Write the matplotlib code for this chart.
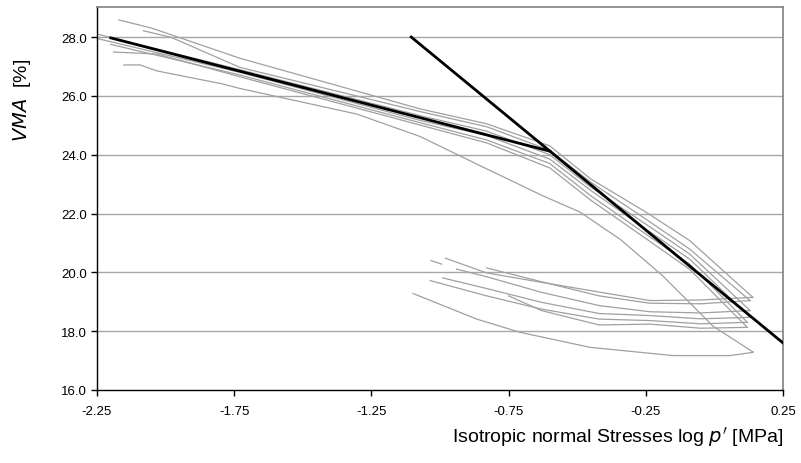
import numpy as np
import matplotlib
matplotlib.use('Agg')
import matplotlib.pyplot as plt

plt.rcParams['font.family'] = ['Liberation Sans', 'DejaVu Sans']
plt.rcParams['axes.unicode_minus'] = False

# measured loops: loading branches (upper) and unloading branches (lower)
up0_x = [-2.152, -2.093, -2.033, -1.79, -1.729, -1.303, -1.182, -1.073, -0.866, -0.625, -0.49, -0.34, -0.187, -0.005, 0.141]
up0_y = [27.05, 27.05, 26.85, 26.4, 26.25, 25.38, 24.98, 24.62, 23.68, 22.6, 22.05, 21.1, 19.87, 18.17, 17.29]
up1_x = [-2.17, -2.05, -1.73, -1.07, -0.83, -0.6, -0.45, -0.25, -0.09, 0.14]
up1_y = [28.58, 28.3, 27.28, 25.55, 25.05, 24.3, 23.17, 22.05, 21.08, 19.15]
up2_x = [-2.08, -1.98, -1.73, -1.07, -0.83, -0.6, -0.45, -0.25, -0.09, 0.13]
up2_y = [28.21, 27.99, 26.97, 25.46, 24.95, 24.15, 23.06, 21.81, 20.79, 19.04]
up3_x = [-2.25, -1.73, -1.07, -0.83, -0.6, -0.45, -0.25, -0.09, 0.13]
up3_y = [28.1, 26.89, 25.32, 24.8, 24.0, 22.89, 21.64, 20.62, 18.7]
up4_x = [-2.25, -1.73, -1.07, -0.83, -0.6, -0.45, -0.25, -0.09, 0.13]
up4_y = [27.95, 26.8, 25.16, 24.65, 23.85, 22.78, 21.47, 20.45, 18.47]
up5_x = [-2.2, -1.73, -1.07, -0.83, -0.6, -0.45, -0.25, -0.09, 0.12]
up5_y = [27.75, 26.71, 25.08, 24.5, 23.7, 22.6, 21.3, 20.28, 18.3]
up6_x = [-2.19, -2.03, -1.73, -1.07, -0.83, -0.6, -0.45, -0.25, -0.09, 0.12]
up6_y = [27.49, 27.42, 26.65, 25.0, 24.4, 23.55, 22.45, 21.15, 20.1, 18.13]

lo0_x = [-1.098, -0.97, -0.866, -0.708, -0.453, -0.151, 0.057, 0.141]
lo0_y = [19.28, 18.8, 18.41, 17.96, 17.45, 17.17, 17.17, 17.28]
lo1_x = [-0.98, -0.83, -0.63, -0.42, -0.235, -0.05, 0.14]
lo1_y = [20.48, 19.98, 19.66, 19.33, 19.04, 19.06, 19.15]
lo2_x = [-0.83, -0.63, -0.42, -0.235, -0.05, 0.13]
lo2_y = [20.15, 19.68, 19.2, 18.95, 18.93, 19.04]
lo3_x = [-0.94, -0.83, -0.63, -0.42, -0.235, -0.05, 0.13]
lo3_y = [20.11, 19.85, 19.32, 18.87, 18.66, 18.62, 18.7]
lo4_x = [-0.99, -0.83, -0.63, -0.42, -0.235, -0.05, 0.13]
lo4_y = [19.81, 19.45, 18.98, 18.6, 18.53, 18.42, 18.47]
lo5_x = [-1.036, -0.83, -0.63, -0.42, -0.235, -0.05, 0.12]
lo5_y = [19.72, 19.2, 18.75, 18.41, 18.36, 18.25, 18.3]
lo6_x = [-0.75, -0.63, -0.42, -0.235, -0.05, 0.12]
lo6_y = [19.2, 18.7, 18.21, 18.24, 18.1, 18.13]
dash_x = [-1.033, -0.994]
dash_y = [20.40, 20.28]

# fitted lines
line1_x = [-2.2, -0.6]
line1_y = [27.97, 24.12]
line2_x = [-1.105, 0.25]
line2_y = [28.0, 17.6]

xticks = [-2.25, -1.75, -1.25, -0.75, -0.25, 0.25]
yticks = [16, 18, 20, 22, 24, 26, 28]

fig = plt.figure(figsize=(8.01, 4.64), dpi=100)
ax = fig.add_axes([97/801, 73/464, 686/801, 383/464])

grey = '#a0a0a0'
curves = [(up0_x, up0_y), (up1_x, up1_y), (up2_x, up2_y), (up3_x, up3_y),
          (up4_x, up4_y), (up5_x, up5_y), (up6_x, up6_y),
          (lo0_x, lo0_y), (lo1_x, lo1_y), (lo2_x, lo2_y), (lo3_x, lo3_y),
          (lo4_x, lo4_y), (lo5_x, lo5_y), (lo6_x, lo6_y), (dash_x, dash_y)]
for cx, cy in curves:
    ax.plot(cx, cy, color=grey, lw=0.9, zorder=2)

ax.plot(line1_x, line1_y, color='black', lw=2, zorder=3)
ax.plot(line2_x, line2_y, color='black', lw=2, zorder=3)

for yv in yticks[1:]:
    ax.axhline(yv, color='#a6a6a6', lw=1, zorder=1)

ax.set_xlim(-2.25, 0.25)
ax.set_ylim(16, 29.02)
ax.set_xticks(xticks)
ax.set_xticklabels(['%.2f' % v for v in xticks])
ax.set_yticks(yticks)
ax.set_yticklabels(['%.1f' % v for v in yticks])
ax.tick_params(axis='both', labelsize=9.5, length=4, width=1, direction='out', colors='black')
ax.tick_params(axis='x', pad=7)
ax.tick_params(axis='y', pad=3)

for s in ['left', 'bottom']:
    ax.spines[s].set_color('black')
    ax.spines[s].set_linewidth(1)
for s in ['top', 'right']:
    ax.spines[s].set_color('#808080')
    ax.spines[s].set_linewidth(1.2)

fig.text(783/801, 1 - 437/464, "Isotropic normal Stresses log $p'$ [MPa]", ha='right', va='center', fontsize=14)
fig.text(22/801, 1 - 100/464, '$VMA$  [%]', rotation=90, ha='center', va='center', fontsize=14)

fig.savefig('out.png', dpi=100)
